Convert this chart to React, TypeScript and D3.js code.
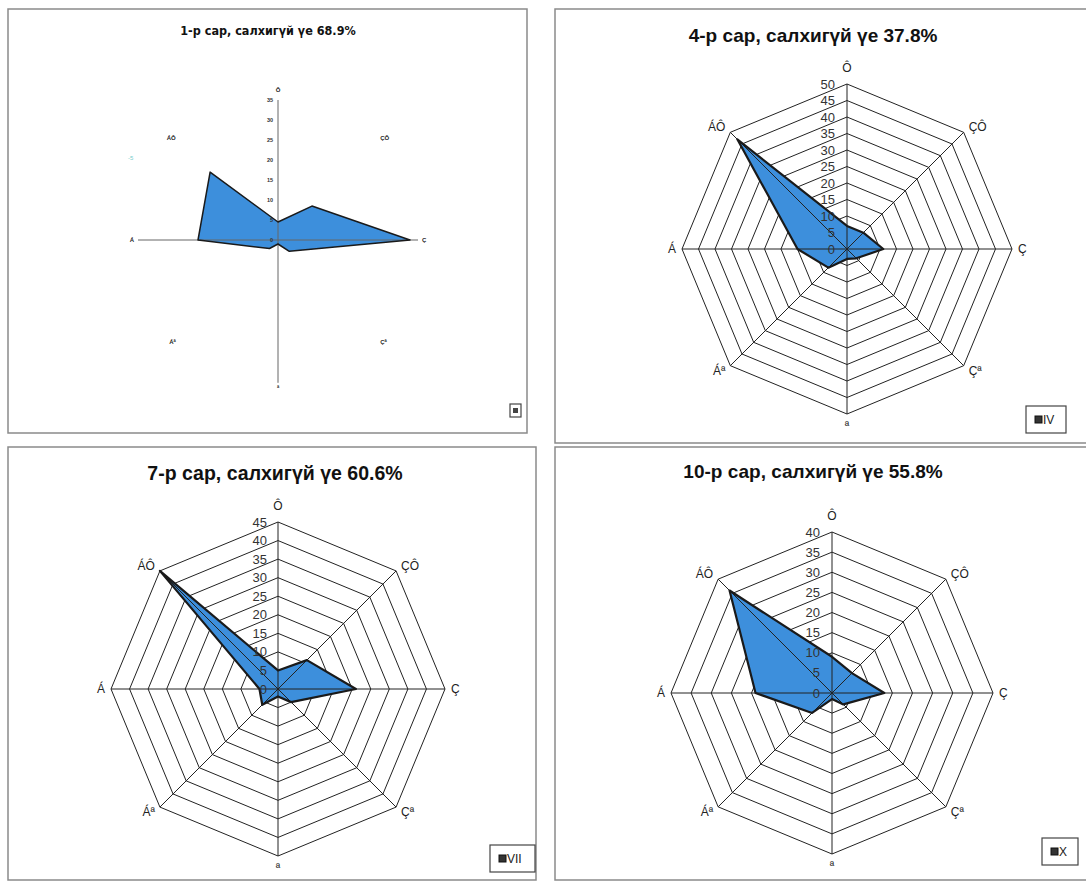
import React from "react";
import * as d3 from "d3";

// ---- data ----
const directions = ["Ô", "ÇÔ", "Ç", "Çª", "ª", "Áª", "Á", "ÁÔ"];
const janValues = [4.5, 12, 33, 4, 1, 3, 20, 24];
const aprValues = [7, 7, 11, 4, 3, 8, 15, 47];
const julValues = [5, 11, 21, 5, 2, 6, 5, 45];
const octValues = [9, 7, 13, 4, 1.5, 7, 19, 36];
const titles = [
  "1-р сар, салхигүй үе 68.9%",
  "4-р сар, салхигүй үе 37.8%",
  "7-р сар, салхигүй үе 60.6%",
  "10-р сар, салхигүй үе 55.8%",
];
const axisMax = [35, 50, 45, 40];
const tickStep = 5;
const legendLabels = ["I", "IV", "VII", "X"];

// ---- layout ----
const layouts = [
  { box: [8, 9, 527, 433], cx: 278, cy: 240, radius: 140, titleX: 268, titleY: 35, titleSize: 12.5, narrow: true, minimal: true,
    labelSize: 6, tickSize: 5.5, tickDx: -5, off: 0.65, legend: [510, 404, 11, 13] },
  { box: [555, 9, 1090, 443], cx: 847, cy: 249, radius: 165, titleX: 813, titleY: 42, titleSize: 19, narrow: false, minimal: false,
    labelSize: 12, tickSize: 13, tickDx: -12, off: 1, legend: [1026, 406, 40, 27] },
  { box: [8, 447, 536, 880], cx: 278, cy: 689, radius: 167, titleX: 275, titleY: 480, titleSize: 19.5, narrow: false, minimal: false,
    labelSize: 12, tickSize: 13, tickDx: -11, off: 1, legend: [490, 845, 45, 27] },
  { box: [555, 447, 1090, 880], cx: 832, cy: 693, radius: 161, titleX: 813, titleY: 478, titleSize: 19, narrow: false, minimal: false,
    labelSize: 12, tickSize: 13, tickDx: -12, off: 1, legend: [1042, 838, 36, 27] },
];

const FONT = "'Liberation Sans', Arial, Helvetica, sans-serif";
const NARROW = "'Liberation Sans Narrow', 'Arial Narrow', 'DejaVu Sans Condensed', Arial, sans-serif";
const FILL = "#3d8fdc";

function RadarPanel({ lay, values, max, title, legend }: any) {
  const n = directions.length;
  const rScale = d3.scaleLinear().domain([0, max]).range([0, lay.radius]);
  const angle = d3.scaleLinear().domain([0, n]).range([0, 2 * Math.PI]);
  const ticks = d3.range(0, max + tickStep / 2, tickStep);

  const radial = (vals: number[]) =>
    d3
      .lineRadial<number>()
      .angle((_, i) => angle(i))
      .radius((v) => rScale(v))
      .curve(d3.curveLinearClosed)(vals) as string;

  const pt = (i: number, v: number) => {
    const a = angle(i);
    return [Math.sin(a) * rScale(v), -Math.cos(a) * rScale(v)];
  };

  const [bx0, by0, bx1, by1] = lay.box;
  const o = lay.off;

  const labelPos = (i: number) => {
    const [x, y] = pt(i, max);
    switch (i) {
      case 0: return { x, y: y - 16 * o, anchor: "middle" };
      case 1: return { x: x + 5 * o, y: y - 5 * o, anchor: "start" };
      case 2: return { x: x + 6 * o, y, anchor: "start" };
      case 3: return { x: x + 5 * o, y: y + 5 * o, anchor: "start" };
      case 4: return { x, y: y + 12 * o, anchor: "middle" };
      case 5: return { x: x - 5 * o, y: y + 5 * o, anchor: "end" };
      case 6: return { x: x - 6 * o, y, anchor: "end" };
      default: return { x: x - 5 * o, y: y - 5 * o, anchor: "end" };
    }
  };

  const [lx, ly, lw, lh] = lay.legend;
  const smallWeight = lay.minimal ? "bold" : "normal";

  return (
    <g>
      <rect x={bx0} y={by0} width={bx1 - bx0} height={by1 - by0} fill="#fff" stroke="#8a8a8a" strokeWidth={1.5} />
      <text
        x={lay.titleX}
        y={lay.titleY}
        textAnchor="middle"
        fontFamily={lay.narrow ? NARROW : FONT}
        fontWeight="bold"
        fontSize={lay.titleSize}
        fill="#111"
      >
        {title}
      </text>
      <g transform={`translate(${lay.cx},${lay.cy})`}>
        {!lay.minimal &&
          ticks.slice(1).map((t) => (
            <path key={"ring" + t} d={radial(directions.map(() => t))} fill="none" stroke="#222" strokeWidth={1} />
          ))}
        <path d={radial(values)} fill={FILL} stroke="none" />
        {directions.map((d, i) => {
          if (lay.minimal && i % 2 === 1) return null;
          const [x, y] = pt(i, max);
          const ext = lay.minimal && i === 4 ? 1.02 : 1;
          return (
            <line
              key={"sp" + i}
              x1={0}
              y1={0}
              x2={x * ext}
              y2={y * ext}
              stroke={lay.minimal ? "#666" : "#222"}
              strokeWidth={1}
            />
          );
        })}
        <path d={radial(values)} fill="none" stroke="#1a1a1a" strokeWidth={lay.minimal ? 1.5 : 2.2} strokeLinejoin="round" />
        {ticks.map((t) => (
          <text
            key={"tk" + t}
            x={lay.tickDx}
            y={-rScale(t)}
            textAnchor="end"
            dominantBaseline="central"
            fontFamily={FONT}
            fontWeight={smallWeight}
            fontSize={lay.tickSize}
            fill="#333"
          >
            {t}
          </text>
        ))}
        {directions.map((d, i) => {
          const p = labelPos(i);
          return (
            <text
              key={"lb" + i}
              x={p.x}
              y={p.y}
              textAnchor={p.anchor}
              dominantBaseline="central"
              fontFamily={FONT}
              fontWeight={smallWeight}
              fontSize={lay.labelSize}
              fill="#222"
            >
              {d}
            </text>
          );
        })}
      </g>
      <rect x={lx} y={ly} width={lw} height={lh} fill="#fff" stroke="#444" strokeWidth={1.2} />
      {lay.minimal ? (
        <rect x={lx + 3} y={ly + 4} width={5} height={5} fill="#444" />
      ) : (
        <g>
          <rect x={lx + 9} y={ly + lh / 2 - 3.5} width={7} height={7} fill="#333" stroke="#111" strokeWidth={1} />
          <text
            x={lx + 17}
            y={ly + lh / 2}
            dominantBaseline="central"
            fontFamily={FONT}
            fontSize={12}
            fill="#222"
          >
            {legend}
          </text>
        </g>
      )}
    </g>
  );
}

export default function App() {
  const seriesList = [janValues, aprValues, julValues, octValues];
  return (
    <div style={{ position: "absolute", left: 0, top: 0 }}>
      <svg width={1086} height={884} style={{ display: "block", background: "#fff" }}>
        <rect x={0} y={0} width={1086} height={884} fill="#fff" />
        {layouts.map((lay, k) => (
          <RadarPanel
            key={k}
            lay={lay}
            values={seriesList[k]}
            max={axisMax[k]}
            title={titles[k]}
            legend={legendLabels[k]}
          />
        ))}
        <text x={128} y={160} fontFamily={FONT} fontSize={6} fill="#7cc">
          -5
        </text>
      </svg>
    </div>
  );
}
